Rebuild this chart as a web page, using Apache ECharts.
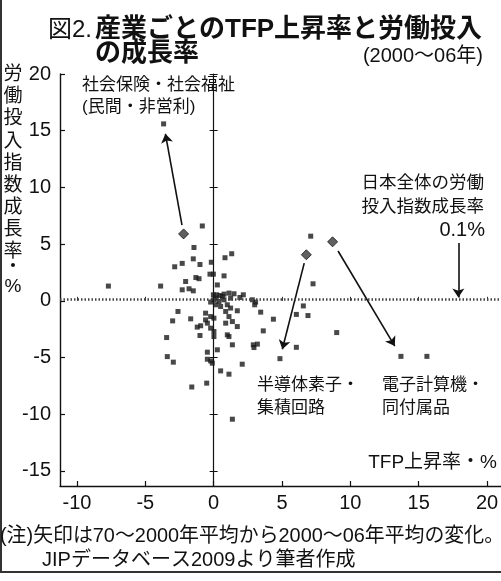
<!DOCTYPE html>
<html>
<head>
<meta charset="utf-8">
<script src="https://cdn.jsdelivr.net/npm/echarts@6/dist/echarts.min.js"></script>
<style>
html, body { margin: 0; padding: 0; background: #fff; }
#chart { width: 501px; height: 581px; }
</style>
</head>
<body>
<div id="chart"></div>
<script>
// 産業ごとの TFP上昇率(x, %) と 労働投入指数成長率(y, %)  2000~06年平均
var industryPoints = [
    [-3.66, 15.6], [-0.83, 6.6], [-1.44, 4.7], [1.32, 4.15], [0.83, 3.8],
    [-1.49, 3.7], [-2.3, 3.3], [-2.85, 3.0], [-1.0, 3.2], [-0.17, 3.4],
    [-0.27, 2.35], [-0.02, 2.35], [0.76, 2.2], [-1.3, 2.05], [-1.07, 1.95],
    [-2.05, 1.7], [0.27, 1.4], [-3.88, 1.3], [-7.7, 1.3], [-2.3, 0.97],
    [-1.8, 1.06], [-1.49, 0.88], [-0.02, 0.53], [0.22, 0.53], [0.46, 0.47],
    [0.76, 0.59], [1.12, 0.68], [1.49, 0.62], [2.17, 0.53], [1.92, 0.29],
    [2.83, 0.09], [3.07, -0.11], [0.02, 0.09], [0.39, -0.06], [0.76, 0.09],
    [-0.22, -0.11], [0.15, 0.24], [0.64, 0.38], [1.24, 0.24], [3.0, -0.35],
    [0.15, -0.35], [0.51, -0.5], [1.0, -0.35], [1.24, -0.64], [-2.61, -0.94],
    [-3.0, -1.77], [-1.68, -1.59], [-0.59, -1.09], [-0.22, -1.39], [0.02, -1.53],
    [-0.59, -1.68], [-0.46, -1.97], [0.88, -0.94], [1.12, -1.39], [1.73, -0.88],
    [1.37, -1.83], [0.88, -1.97], [1.73, -2.27], [3.44, -1.0], [4.37, -1.62],
    [-1.2, -2.32], [-0.95, -2.2], [-0.22, -2.41], [0.02, -2.71], [-3.44, -3.24],
    [-1.0, -3.06], [0.02, -3.15], [1.0, -3.0], [1.12, -3.15], [3.63, -2.65],
    [1.37, -3.88], [2.9, -3.88], [3.2, -3.82], [2.95, -4.12], [0.27, -4.32],
    [-0.46, -4.53], [-3.39, -4.92], [-2.95, -5.41], [-0.46, -5.15], [-0.22, -5.3],
    [-0.1, -5.5], [2.09, -5.59], [0.51, -6.18], [1.12, -6.47], [-0.51, -7.26],
    [-1.6, -7.6], [1.37, -10.44], [4.85, -5.1], [6.05, -1.2], [6.9, -1.3],
    [6.56, -0.45], [7.27, 1.5], [7.1, 5.7], [9.0, -2.8], [6.05, -4.1],
    [13.7, -4.9], [15.6, -4.9]
];
// 70~2000年平均 (矢印の始点) -> 2000~06年平均 (矢印の終点)
var arrowFrom = [[-2.2, 5.9], [6.78, 4.06], [8.7, 5.2]];
var arrowTo = [[-3.66, 15.6], [4.85, -5.1], [13.7, -4.9]];
var japanLaborGrowth = 0.1;
var pointerFrom = [17.9, 5.1];

var xTicks = [-10, -5, 0, 5, 10, 15, 20];
var yTicks = [-15, -10, -5, 0, 5, 10, 15, 20];

var XMIN = -11.24, XMAX = 21.02, YMIN = -16.33, YMAX = 20;

var NUM_FONT = "'Liberation Sans', 'Noto Sans CJK JP', sans-serif";
var JP_FONT = "'Liberation Sans', 'Noto Sans CJK JP', sans-serif";

function along(a, b, t) {
    return [a[0] + (b[0] - a[0]) * t, a[1] + (b[1] - a[1]) * t];
}

var arrowData = arrowFrom.map(function (p, i) {
    return { coords: [along(p, arrowTo[i], 0.08), along(p, arrowTo[i], 0.91)] };
});
arrowData.push({ coords: [pointerFrom, [pointerFrom[0], japanLaborGrowth + 0.2]] });

function txt(text, x, y, size, align, extra) {
    var st = {
        text: text, x: x, y: y,
        font: (extra && extra.weight ? extra.weight + ' ' : '') + size + 'px ' + ((extra && extra.family) || JP_FONT),
        fill: '#111',
        align: align || 'left', textAlign: align || 'left',
        verticalAlign: (extra && extra.va) || 'middle', textVerticalAlign: (extra && extra.va) || 'middle',
        lineHeight: (extra && extra.lh) || size
    };
    return { type: 'text', silent: true, style: st };
}

var noZero = function (v) { return v !== 0; };

var chart = echarts.init(document.getElementById('chart'));

chart.setOption({
    backgroundColor: '#fff',
    animation: false,
    grid: { left: 60, right: 0, top: 74, bottom: 95, containLabel: false, outerBoundsMode: 'none' },
    xAxis: [
        {
            type: 'value', min: XMIN, max: XMAX, position: 'bottom',
            axisLine: { show: true, onZero: false, lineStyle: { color: '#111', width: 1.4 } },
            axisTick: { show: true, inside: true, length: 5, customValues: xTicks, lineStyle: { color: '#111', width: 1.2 } },
            axisLabel: { customValues: xTicks, fontSize: 20, fontFamily: NUM_FONT, color: '#111', margin: 7 },
            splitLine: { show: false }
        },
        {
            type: 'value', min: XMIN, max: XMAX, position: 'bottom',
            axisLine: { show: false, onZero: true },
            axisTick: { show: true, inside: true, length: 4, customValues: xTicks.filter(noZero), lineStyle: { color: '#333', width: 1 } },
            axisLabel: { show: false },
            splitLine: { show: false }
        }
    ],
    yAxis: [
        {
            type: 'value', min: YMIN, max: YMAX, position: 'left',
            axisLine: { show: true, onZero: false, lineStyle: { color: '#111', width: 1.4 } },
            axisTick: { show: true, inside: true, length: 5, customValues: yTicks, lineStyle: { color: '#111', width: 1.2 } },
            axisLabel: { customValues: yTicks, fontSize: 20, fontFamily: NUM_FONT, color: '#111', margin: 9 },
            splitLine: { show: false }
        },
        {
            type: 'value', min: YMIN, max: YMAX, position: 'left',
            axisLine: { show: true, onZero: true, lineStyle: { color: '#111', width: 1.2 } },
            axisTick: { show: true, inside: true, length: 4, customValues: yTicks.filter(noZero), lineStyle: { color: '#111', width: 1 } },
            axisLabel: { show: false },
            splitLine: { show: false }
        },
        {
            type: 'value', min: YMIN, max: YMAX, position: 'left',
            axisLine: { show: false, onZero: true },
            axisTick: { show: true, inside: false, length: 4, customValues: yTicks.filter(noZero), lineStyle: { color: '#111', width: 1 } },
            axisLabel: { show: false },
            splitLine: { show: false }
        }
    ],
    series: [
        {
            name: '産業', type: 'scatter', symbol: 'rect', symbolSize: 5,
            itemStyle: { color: '#1a1a1a' },
            data: industryPoints
        },
        {
            name: '70~2000年平均', type: 'scatter', symbol: 'diamond', symbolSize: 10,
            itemStyle: { color: '#3a3a3a', borderColor: '#111', borderWidth: 1 },
            data: arrowFrom,
            markLine: {
                silent: true, symbol: 'none', label: { show: false }, animation: false,
                data: [{ yAxis: japanLaborGrowth }],
                lineStyle: { color: '#444', width: 2.5, type: [1.5, 2] }
            }
        },
        {
            name: '変化', type: 'lines', coordinateSystem: 'cartesian2d',
            symbol: ['none', 'arrow'], symbolSize: 9,
            lineStyle: { color: '#111', width: 1.6, opacity: 1, curveness: 0 },
            data: arrowData
        }
    ],
    graphic: [
        { type: 'line', silent: true, shape: { x1: 1, y1: 0, x2: 1, y2: 572 }, style: { stroke: '#333', lineWidth: 2 } },
        { type: 'line', silent: true, shape: { x1: 0, y1: 572, x2: 501, y2: 572 }, style: { stroke: '#333', lineWidth: 2 } },
        txt('図2.', 48, 30, 24, 'left'),
        txt('産業ごとのTFP上昇率と労働投入', 95, 30, 26, 'left', { weight: 'bold' }),
        txt('の成長率', 95, 54, 26, 'left', { weight: 'bold' }),
        txt('(2000〜06年)', 483, 56, 20, 'right'),
        txt('労\n働\n投\n入\n指\n数\n成\n長\n率', 13, 64, 19, 'center', { va: 'top', lh: 22.1 }),
        txt('・\n%', 13, 258, 19, 'center', { va: 'top', lh: 19 }),
        txt('社会保険・社会福祉', 82, 85, 17, 'left'),
        txt('(民間・非営利)', 82, 107, 17, 'left'),
        txt('日本全体の労働', 484, 183, 17.5, 'right'),
        txt('投入指数成長率', 484, 207, 17.5, 'right'),
        txt(japanLaborGrowth + '%', 485, 230, 20, 'right'),
        txt('半導体素子・', 257, 385, 17, 'left'),
        txt('集積回路', 257, 408, 17, 'left'),
        txt('電子計算機・', 382, 385, 17, 'left'),
        txt('同付属品', 382, 408, 17, 'left'),
        txt('TFP上昇率・%', 497, 463, 19, 'right'),
        txt('(注)矢印は70〜2000年平均から2000〜06年平均の変化。', 0, 537, 19.9, 'left'),
        txt('JIPデータベース2009より筆者作成', 42, 560, 20, 'left')
    ]
});
</script>
</body>
</html>
